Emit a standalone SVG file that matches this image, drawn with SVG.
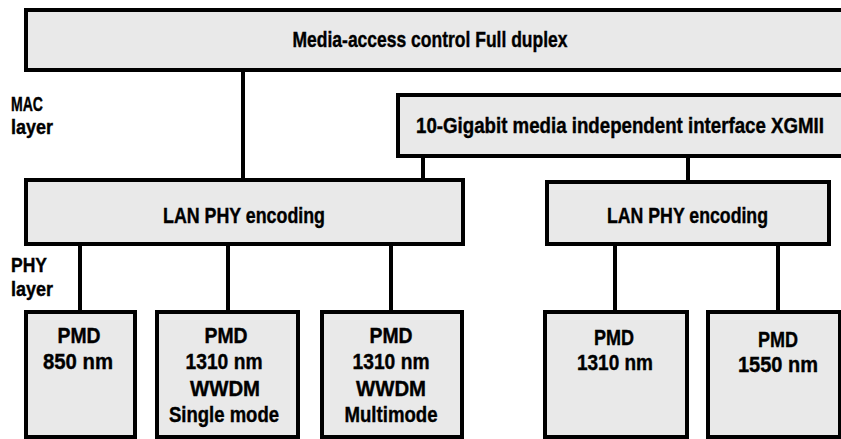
<svg xmlns="http://www.w3.org/2000/svg" width="841" height="439" viewBox="0 0 841 439">
<style>
.box{fill:#e9e9e9;stroke:#000;stroke-width:4}
.ln{stroke:#000;stroke-width:4;fill:none}
.t{font-family:"Liberation Sans",Arial,sans-serif;font-weight:bold;font-size:22px;fill:#000;stroke:#000;stroke-width:0.4}
.l{font-size:20px}
.m{text-anchor:middle}
</style>
<rect width="841" height="439" fill="#fff"/>
<g id="connectors">
<line class="ln" x1="243" y1="70" x2="243" y2="180"/>
<line class="ln" x1="423" y1="156" x2="423" y2="180"/>
<line class="ln" x1="688" y1="156" x2="688" y2="182"/>
<line class="ln" x1="80" y1="244" x2="80" y2="312"/>
<line class="ln" x1="228" y1="244" x2="228" y2="312"/>
<line class="ln" x1="391" y1="244" x2="391" y2="312"/>
<line class="ln" x1="615" y1="244" x2="615" y2="312"/>
<line class="ln" x1="778" y1="244" x2="778" y2="312"/>
</g>
<g id="mac">
<rect class="box" x="26" y="10" width="830" height="60"/>
<text class="t m" x="430" y="47" textLength="275" lengthAdjust="spacingAndGlyphs">Media-access control Full duplex</text>
</g>
<g id="xgmii">
<rect class="box" x="398" y="95" width="460" height="61"/>
<text class="t" x="416" y="133" textLength="408" lengthAdjust="spacingAndGlyphs">10-Gigabit media independent interface XGMII</text>
</g>
<g id="mac-label">
<text class="t l" x="11" y="111" textLength="32" lengthAdjust="spacingAndGlyphs">MAC</text>
<text class="t l" x="11" y="134" textLength="42" lengthAdjust="spacingAndGlyphs">layer</text>
</g>
<g id="phy-label">
<text class="t l" x="11" y="272" textLength="36" lengthAdjust="spacingAndGlyphs">PHY</text>
<text class="t l" x="11" y="296" textLength="42" lengthAdjust="spacingAndGlyphs">layer</text>
</g>
<g id="lan1">
<rect class="box" x="26" y="180" width="437" height="64"/>
<text class="t" x="163" y="223" textLength="162" lengthAdjust="spacingAndGlyphs">LAN PHY encoding</text>
</g>
<g id="lan2">
<rect class="box" x="547" y="182" width="282" height="62"/>
<text class="t" x="607" y="223" textLength="161" lengthAdjust="spacingAndGlyphs">LAN PHY encoding</text>
</g>
<g id="pmd1">
<rect class="box" x="26" y="312" width="109" height="125"/>
<text class="t m" x="79" y="343" textLength="43" lengthAdjust="spacingAndGlyphs">PMD</text>
<text class="t m" x="78" y="369" textLength="70" lengthAdjust="spacingAndGlyphs">850 nm</text>
</g>
<g id="pmd2">
<rect class="box" x="157" y="312" width="141" height="125"/>
<text class="t m" x="226" y="343" textLength="43" lengthAdjust="spacingAndGlyphs">PMD</text>
<text class="t m" x="224" y="369" textLength="77" lengthAdjust="spacingAndGlyphs">1310 nm</text>
<text class="t m" x="225" y="396" textLength="70" lengthAdjust="spacingAndGlyphs">WWDM</text>
<text class="t m" x="224" y="422" textLength="110" lengthAdjust="spacingAndGlyphs">Single mode</text>
</g>
<g id="pmd3">
<rect class="box" x="322" y="312" width="140" height="125"/>
<text class="t m" x="391" y="343" textLength="43" lengthAdjust="spacingAndGlyphs">PMD</text>
<text class="t m" x="391" y="369" textLength="77" lengthAdjust="spacingAndGlyphs">1310 nm</text>
<text class="t m" x="391" y="396" textLength="70" lengthAdjust="spacingAndGlyphs">WWDM</text>
<text class="t m" x="391" y="422" textLength="93" lengthAdjust="spacingAndGlyphs">Multimode</text>
</g>
<g id="pmd4">
<rect class="box" x="545" y="312" width="142" height="125"/>
<text class="t m" x="614" y="345" textLength="40" lengthAdjust="spacingAndGlyphs">PMD</text>
<text class="t m" x="615" y="370" textLength="76" lengthAdjust="spacingAndGlyphs">1310 nm</text>
</g>
<g id="pmd5">
<rect class="box" x="708" y="312" width="132" height="125"/>
<text class="t m" x="778" y="347" textLength="40" lengthAdjust="spacingAndGlyphs">PMD</text>
<text class="t m" x="778" y="372" textLength="80" lengthAdjust="spacingAndGlyphs">1550 nm</text>
</g>
</svg>
